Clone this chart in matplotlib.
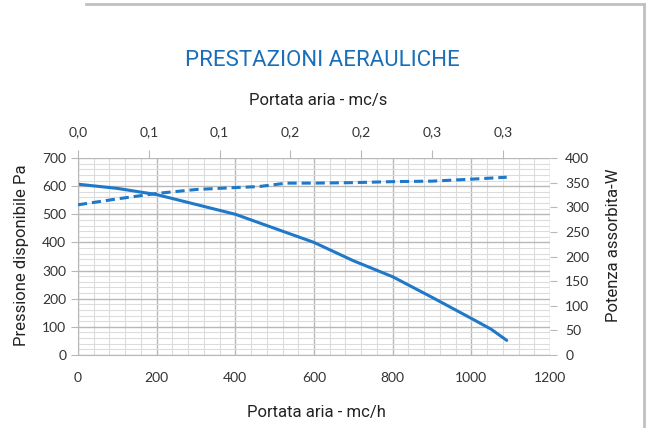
import matplotlib
matplotlib.use("Agg")
import matplotlib.pyplot as plt
from matplotlib.lines import Line2D
from matplotlib.ticker import MultipleLocator, FixedLocator, FixedFormatter

# Data
flow_pressure = [0, 100, 200, 300, 400, 500, 600, 700, 800, 900, 1000, 1050, 1090]
pressure_pa   = [607, 592, 570, 535, 500, 450, 400, 335, 278, 205, 130, 92, 52]
flow_power    = [0, 100, 200, 300, 400, 460, 530, 600, 700, 800, 900, 1000, 1090]
power_w       = [305, 317, 328, 336, 340, 342, 349, 349, 350, 352, 353, 357, 361]
top_ticks_m3s = [0.0, 0.05, 0.10, 0.15, 0.20, 0.25, 0.30]
top_labels    = ["0,0", "0,1", "0,1", "0,2", "0,2", "0,3", "0,3"]

blue = "#1f78c8"
title_blue = "#1a6fb8"
cond = ["Roboto", "DejaVu Sans"]
tickfont = ["Lato", "DejaVu Sans"]

fig = plt.figure(figsize=(6.54, 4.28), dpi=100)
ax = fig.add_axes([78/654, 1-355/428, (550-78)/654, (355-158)/428])

ax.set_xlim(0, 1200)
ax.set_ylim(0, 700)
ax.xaxis.set_major_locator(MultipleLocator(200))
ax.xaxis.set_minor_locator(MultipleLocator(40))
ax.yaxis.set_major_locator(MultipleLocator(100))
ax.yaxis.set_minor_locator(MultipleLocator(20))
ax.grid(which="major", color="#b8b8b8", lw=1.0)
ax.grid(which="minor", color="#dcdcdc", lw=0.8)
ax.set_axisbelow(True)
for s in ax.spines.values():
    s.set_visible(False)
ax.spines["left"].set_visible(True)
ax.spines["left"].set_color("#b8b8b8")
ax.spines["bottom"].set_visible(True)
ax.spines["bottom"].set_color("#b8b8b8")
ax.tick_params(which="major", length=5, color="#b8b8b8", labelsize=10, labelcolor="#333333")
ax.tick_params(which="minor", length=0)
ax.tick_params(axis="x", which="major", length=0, pad=12)
for lab in ax.get_xticklabels() + ax.get_yticklabels():
    lab.set_family(tickfont)

ax.plot(flow_pressure, pressure_pa, color=blue, lw=2.2, solid_capstyle="round")

ax2 = ax.twinx()
ax2.set_ylim(0, 400)
ax2.yaxis.set_major_locator(MultipleLocator(50))
for s in ax2.spines.values():
    s.set_visible(False)
ax2.tick_params(length=5, color="#b8b8b8", labelsize=10, labelcolor="#333333", pad=6)
for lab in ax2.get_yticklabels():
    lab.set_family(tickfont)
ax2.plot(flow_power, power_w, color=blue, lw=2.2, ls=(0, (3, 1.6)))

ax3 = ax.twiny()
ax3.set_xlim(0, 1200/3600)
ax3.xaxis.set_major_locator(FixedLocator(top_ticks_m3s))
ax3.xaxis.set_major_formatter(FixedFormatter(top_labels))
for s in ax3.spines.values():
    s.set_visible(False)
ax3.tick_params(length=6, color="#b8b8b8", labelsize=10, labelcolor="#333333", pad=8)
for lab in ax3.get_xticklabels():
    lab.set_family(tickfont)

fig.text(322/654, 1-60/428, "PRESTAZIONI AERAULICHE", ha="center", va="center",
         color=title_blue, fontsize=16, family=cond)
fig.text(318/654, 1-101/428, "Portata aria - mc/s", ha="center", va="center",
         color="#222222", fontsize=12, family=cond)
fig.text(316/654, 1-413/428, "Portata aria - mc/h", ha="center", va="center",
         color="#222222", fontsize=12, family=cond)
fig.text(22/654, 1-255/428, "Pressione disponibile Pa", ha="center", va="center",
         rotation=90, color="#222222", fontsize=12, family=cond)
fig.text(613/654, 1-245/428, "Potenza assorbita-W", ha="center", va="center",
         rotation=90, color="#222222", fontsize=12, family=cond)

# outer frame lines
fig.add_artist(Line2D([86/654, 644/654], [1-4/428, 1-4/428], color="#c0c0c0", lw=2))
fig.add_artist(Line2D([644/654, 644/654], [1-4/428, 0], color="#c0c0c0", lw=2))

fig.savefig("out.png", dpi=100)
